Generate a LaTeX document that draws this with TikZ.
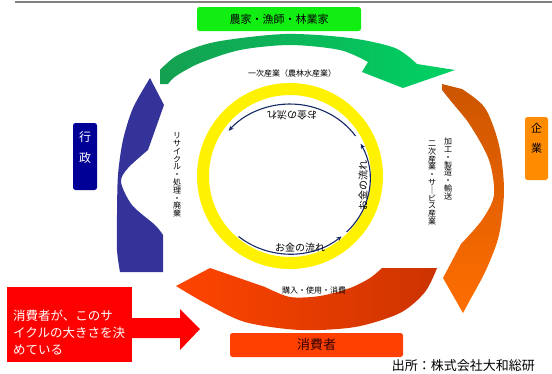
\documentclass[tikz,border=0pt]{standalone}
\usepackage{fontspec}
\setmainfont{Noto Sans CJK JP}
\usetikzlibrary{calc,arrows.meta}

\definecolor{greenA}{RGB}{20,160,80}
\definecolor{greenB}{RGB}{0,210,100}
\definecolor{arrowblue}{RGB}{51,51,153}
\definecolor{orangeA}{RGB}{204,85,0}
\definecolor{orangeB}{RGB}{255,110,0}
\definecolor{redA}{RGB}{255,69,0}
\definecolor{redB}{RGB}{204,51,0}
\definecolor{moneyblue}{RGB}{20,40,100}
\definecolor{farmgreen}{RGB}{17,238,17}
\definecolor{govblue}{RGB}{0,0,150}
\definecolor{firmorange}{RGB}{255,140,0}
\definecolor{buyerred}{RGB}{255,64,0}

\begin{document}
\begin{tikzpicture}
		[x=1pt,y=-1pt,
		box/.style={rounded corners=2.5pt,inner sep=0pt},
		vtxt/.style={align=center,inner sep=0pt,font=\fontsize{8}{7.8}\selectfont},
		small/.style={inner sep=0pt,font=\fontsize{8}{9}\selectfont},
		flow/.style={inner sep=0pt,font=\fontsize{10}{12}\selectfont},
		money/.style={draw=moneyblue,line width=1.1pt,-{Stealth[length=5pt,width=4.5pt]}}]

		\useasboundingbox (0,0) rectangle (552,373);

		\draw[gray,line width=1.5pt] (15,2) -- (552,2);

		\shade[left color=greenA,right color=greenB]
			plot[smooth] coordinates {(160,70) (178,55) (215,42) (285,34) (350,38) (395,48) (417,64)}
			-- (455,70) -- (403,88) -- (362,72)
			-- plot[smooth] coordinates {(368,62) (340,50) (290,45) (240,50) (200,63) (176,76) (168,84)}
			-- (160,84) -- cycle;

		\shade[top color=orangeA,bottom color=orangeB]
			(442,84) -- plot[smooth] coordinates {(462,89) (485,108) (499,145) (504,190) (499,235) (486,270) (470,300) (463,313)}
			-- (443,278) -- (461,244)
			-- plot[smooth] coordinates {(461,244) (482,220) (494,195) (489,160) (470,125) (450,100) (442,90)}
			-- cycle;

		\shade[left color=redA,right color=redB]
			plot[smooth] coordinates {(437,268) (425,292) (400,313) (355,327) (300,330) (245,322) (205,303) (176,286)}
			-- (210,268) -- (265,287)
			-- plot[smooth] coordinates {(265,287) (290,297) (320,296) (350,288) (370,278) (382,268)}
			-- cycle;

		\fill[arrowblue]
			(150,78) -- (164,105) -- (148,150)
			-- plot[smooth] coordinates {(148,150) (128,168) (121,182) (132,205) (155,225) (163,235)}
			-- (163,272)
			-- plot[smooth] coordinates {(120,272) (117,250) (117,215) (118,175) (123,140) (133,108) (150,78)}
			-- cycle;

		\fill[yellow,even odd rule] (290,176) circle[radius=93pt] (290,176) circle[radius=81pt];

		\coordinate (c) at (290,179);
		\draw[money] ($(c)+(35:80pt and 75pt)$) arc[start angle=35,end angle=140,x radius=80pt,y radius=75pt];
		\draw[money] ($(c)+(-45:80pt and 75pt)$) arc[start angle=-45,end angle=28,x radius=80pt,y radius=75pt];
		\draw[money] ($(c)+(230:80pt and 75pt)$) arc[start angle=230,end angle=310,x radius=80pt,y radius=75pt];

		\node[flow,rotate=180] (m1) at (292,115) {お金の流れ};
		\node[flow,rotate=90] (m2) at (363,185) {お金の流れ};
		\node[flow] (m3) at (300,248) {お金の流れ};

		\node[small] (primary) at (292,73) {一次産業（農林水産業）};
		\node[small] (consume) at (314,290) {購入・使用・消費};
		\node[vtxt] (recycle) at (177,175) {リ\\サ\\イ\\ク\\ル\\・\\処\\理\\・\\廃\\棄};
		\node[vtxt] (making) at (448,169) {加\\工\\・\\製\\造\\・\\輸\\送};
		\node[vtxt] (secondary) at (432,183) {二\\次\\産\\業\\・\\サ\\｜\\ビ\\ス\\産\\業};

		\node[box,fill=farmgreen,minimum width=164pt,minimum height=24pt,font=\fontsize{11}{12}\selectfont] (farm) at (279,19) {農家・漁師・林業家};
		\node[box,fill=govblue,minimum width=24pt,minimum height=67pt] (gov) at (85,156.5) {};
		\node[inner sep=0pt,align=center,text=white,font=\fontsize{12}{21}\selectfont] (govtxt) at (85,147.5) {行\\政};
		\node[box,fill=firmorange,minimum width=23pt,minimum height=63pt] (firm) at (536.5,148.5) {};
		\node[inner sep=0pt,align=center,font=\fontsize{11}{20}\selectfont] (firmtxt) at (536.5,138) {企\\業};
		\node[box,fill=buyerred,minimum width=173pt,minimum height=24pt,font=\fontsize{13}{14}\selectfont,text=black!80!red] (buyer) at (316.5,345) {消費者};

		\node[fill=red,minimum width=125pt,minimum height=75pt,inner sep=0pt] (msgbox) at (69.5,324.5) {};
		\node[inner sep=0pt,anchor=west,align=left,text=white,font=\fontsize{12.5}{17}\selectfont] (msg) at (13,332) {消費者が、このサ\\イクルの大きさを決\\めている};
		\fill[red] (131,318) -- (180,318) -- (180,309) -- (200,329) -- (180,350) -- (180,338) -- (131,338) -- cycle;

		\node[inner sep=0pt,anchor=east,font=\fontsize{13}{14}\selectfont] (source) at (535,366) {出所：株式会社大和総研};

	\end{tikzpicture}
\end{document}
